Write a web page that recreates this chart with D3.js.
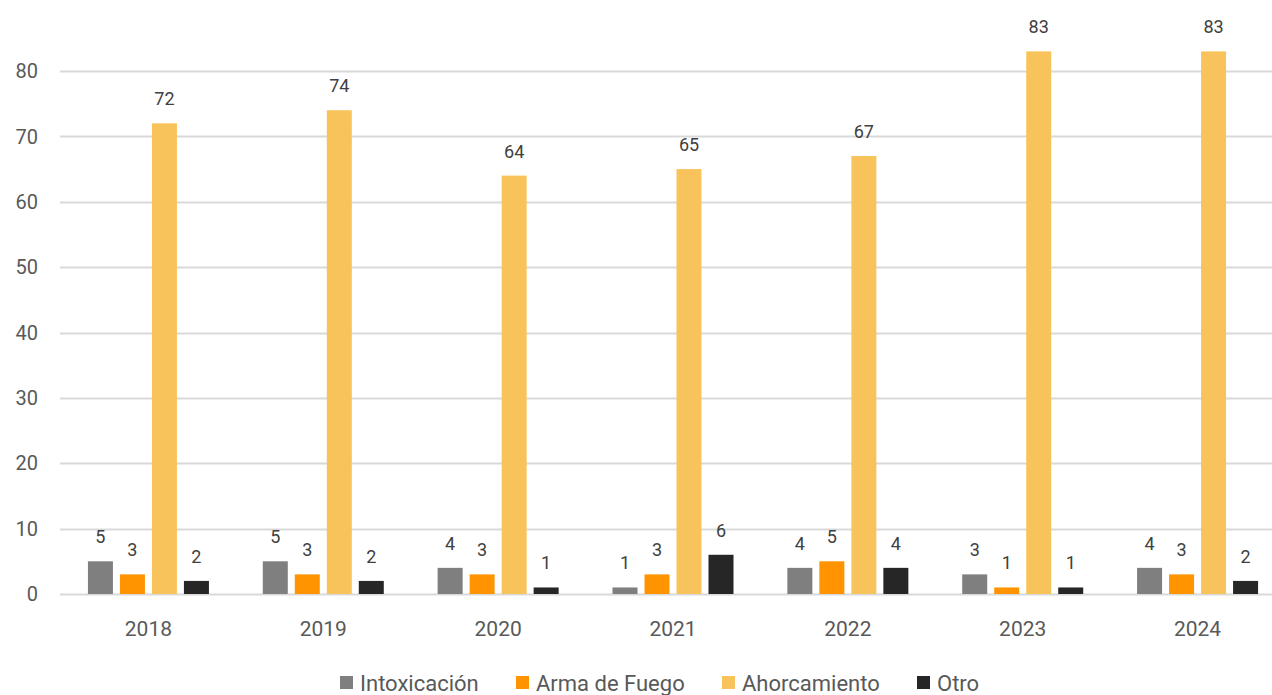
<!DOCTYPE html>
<html>
<head>
<meta charset="utf-8">
<script src="https://cdn.jsdelivr.net/npm/d3@7"></script>
<style>
  html, body { margin: 0; padding: 0; background: #fff; }
  svg { display: block; font-family: Roboto, "Noto Sans", sans-serif; }
</style>
</head>
<body>
<svg id="chart" width="1272" height="695"></svg>
<script>
// Years on the x axis
const years = ["2018", "2019", "2020", "2021", "2022", "2023", "2024"];
// Series names, in legend / bar order
const seriesNames = ["Intoxicación", "Arma de Fuego", "Ahorcamiento", "Otro"];
// Values per series, one per year
const intoxicacion = [5, 5, 4, 1, 4, 3, 4];
const armaDeFuego  = [3, 3, 3, 3, 5, 1, 3];
const ahorcamiento = [72, 74, 64, 65, 67, 83, 83];
const otro         = [2, 2, 1, 6, 4, 1, 2];
// Y axis ticks
const yTicks = [0, 10, 20, 30, 40, 50, 60, 70, 80];

const seriesValues = [intoxicacion, armaDeFuego, ahorcamiento, otro];
const colors = ["#7f7f7f", "#ff9400", "#f9c35c", "#262626"];

const svg = d3.select("#chart");
const margin = { left: 61, right: -13 };
const width = 1272;

const x = d3.scaleBand()
  .domain(years)
  .range([margin.left, width - margin.right])
  .paddingInner(0)
  .paddingOuter(0);

const y = d3.scaleLinear()
  .domain([0, 80])
  .range([594, 71]);

// Bars inside a year: 25px wide, 7px apart
const x1 = d3.scaleBand()
  .domain(seriesNames)
  .range([0, 121])
  .paddingInner(7 / 32)
  .paddingOuter(0);

// Gridlines
svg.append("g")
  .selectAll("line")
  .data(yTicks)
  .join("line")
  .attr("x1", 60)
  .attr("x2", width)
  .attr("y1", d => Math.round(y(d)) + 0.5)
  .attr("y2", d => Math.round(y(d)) + 0.5)
  .attr("stroke", "#d9d9d9")
  .attr("stroke-width", 2);

// Y axis labels
svg.append("g")
  .selectAll("text")
  .data(yTicks)
  .join("text")
  .attr("x", 38)
  .attr("y", d => y(d))
  .attr("dy", "0.36em")
  .attr("text-anchor", "end")
  .attr("font-size", 20)
  .attr("fill", "#595959")
  .text(d => d);

// Bars
const groupWidth = x1.range()[1];
const groupOffset = (x.bandwidth() - groupWidth) / 2;
const rows = [];
years.forEach((yr, i) => {
  seriesNames.forEach((s, j) => {
    rows.push({ year: yr, series: s, value: seriesValues[j][i], color: colors[j] });
  });
});

const groups = svg.append("g");
groups.selectAll("rect")
  .data(rows)
  .join("rect")
  .attr("x", d => x(d.year) + groupOffset + x1(d.series))
  .attr("width", x1.bandwidth())
  .attr("y", d => y(d.value))
  .attr("height", d => y(0) - y(d.value))
  .attr("fill", d => d.color);

// Value labels above each bar
groups.selectAll("text")
  .data(rows)
  .join("text")
  .attr("x", d => x(d.year) + groupOffset + x1(d.series) + x1.bandwidth() / 2)
  .attr("y", d => y(d.value) - 18)
  .attr("text-anchor", "middle")
  .attr("font-size", 18)
  .attr("fill", "#404040")
  .text(d => d.value);

// X axis labels
svg.append("g")
  .selectAll("text")
  .data(years)
  .join("text")
  .attr("x", d => x(d) + x.bandwidth() / 2)
  .attr("y", 636)
  .attr("text-anchor", "middle")
  .attr("font-size", 21)
  .attr("fill", "#595959")
  .text(d => d);

// Legend
const legendX = [340, 516, 722, 917];
const legend = svg.append("g")
  .selectAll("g")
  .data(seriesNames)
  .join("g")
  .attr("transform", (d, i) => `translate(${legendX[i]}, 676)`);
legend.append("rect")
  .attr("width", 13)
  .attr("height", 13)
  .attr("fill", (d, i) => colors[i]);
legend.append("text")
  .attr("x", 20)
  .attr("y", 7)
  .attr("dy", "0.36em")
  .attr("font-size", 22)
  .attr("fill", "#595959")
  .text(d => d);
</script>
</body>
</html>
